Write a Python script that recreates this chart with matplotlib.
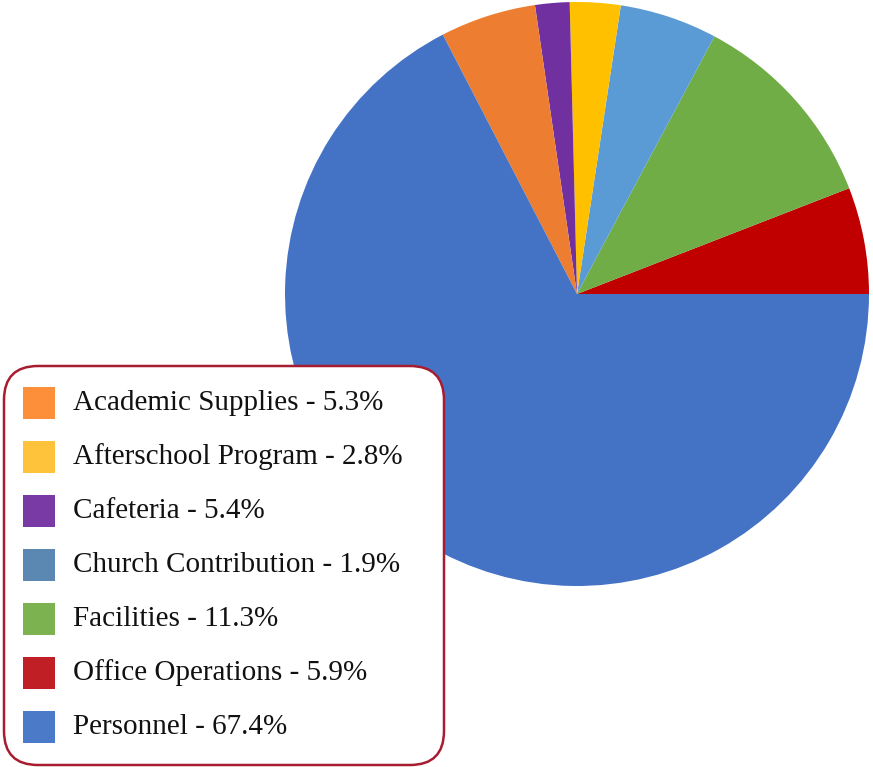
import matplotlib.pyplot as plt
from matplotlib.patches import FancyBboxPatch, Rectangle

plt.rcParams['font.family'] = 'serif'
plt.rcParams['font.serif'] = ['Liberation Serif', 'DejaVu Serif']

# pie wedges, counter-clockwise from 3 o'clock, as drawn
wedge_values = [5.9, 11.3, 5.4, 2.8, 1.9, 5.3, 67.4]
wedge_colors = ['#c00000', '#70ad47', '#5b9bd5', '#ffc000', '#7030a0', '#ed7d31', '#4472c4']

# legend box entries
legend_labels = ['Academic Supplies - 5.3%', 'Afterschool Program - 2.8%', 'Cafeteria - 5.4%',
                 'Church Contribution - 1.9%', 'Facilities - 11.3%', 'Office Operations - 5.9%',
                 'Personnel - 67.4%']
legend_colors = ['#fd8f3b', '#fec33a', '#7a3aa5', '#5b88b3', '#7cb24f', '#c01f25', '#4b7bc8']

W, H = 873, 767
fig = plt.figure(figsize=(W / 100, H / 100), dpi=100)
ax = fig.add_axes([0, 0, 1, 1])

ax.pie(wedge_values, colors=wedge_colors, startangle=0, counterclock=True,
       center=(577, H - 294), radius=292, wedgeprops=dict(linewidth=0))
ax.set_xlim(0, W)
ax.set_ylim(0, H)
ax.set_aspect('equal')
ax.axis('off')

# legend box
box = FancyBboxPatch((4, 2), 440, H - 366 - 2, boxstyle='round,pad=0,rounding_size=34',
                     facecolor='white', edgecolor='#a81c30', linewidth=1.8, zorder=5)
ax.add_patch(box)

for i, (lab, col) in enumerate(zip(legend_labels, legend_colors)):
    yc = H - (403 + i * 54)
    ax.add_patch(Rectangle((23, yc - 16), 32, 32, facecolor=col, edgecolor='none', zorder=6))
    ax.text(73, yc, lab, fontsize=21, color='#111111', va='center', ha='left', zorder=7)

fig.savefig('out.png', dpi=100)
